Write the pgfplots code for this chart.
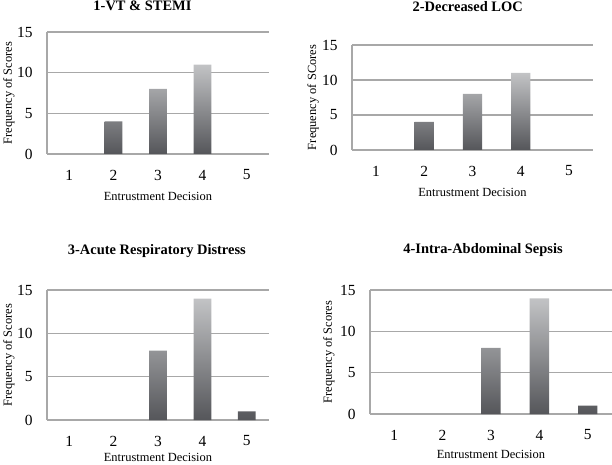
\documentclass[border=0pt]{standalone}
\usepackage{pgfplots}
\pgfplotsset{compat=1.18}
\usepackage{fontspec}
\setmainfont{Liberation Serif}
\definecolor{gridc}{HTML}{A8A8A8}
\definecolor{bartop}{HTML}{C2C3C5}
\definecolor{barbot}{HTML}{55565A}
\pgfplotsset{
  panel/.style={
    scale only axis,
    anchor=south west,
    xmin=0.5, xmax=5.5, ymin=0, ymax=15,
    xtick={1,2,3,4,5}, ytick={0,5,10,15},
    ymajorgrids, major grid style={gridc, line width=1.2pt},
    axis lines*=left,
    x axis line style={draw=none},
    y axis line style={gridc, line width=1.2pt, -},
    major tick length=0pt,
    tick label style={font=\fontsize{15.5}{16}\selectfont},
    xticklabel style={anchor=center, yshift=-21bp},
    yticklabel style={anchor=east, xshift=-11bp},
    /pgf/number format/assume math mode=true,
    label style={font=\fontsize{12.5}{13}\selectfont},
    title style={font=\fontsize{14.5}{15}\selectfont\bfseries, anchor=center},
    ylabel={Frequency of Scores},
    xlabel={Entrustment Decision},
    ylabel style={anchor=center},
    clip=false,
  },
  bars/.style={ybar, bar width=0.4, draw=none, shade, top color=bartop, bottom color=barbot},
}
\begin{document}
\begin{tikzpicture}
\useasboundingbox (0,0) rectangle (612bp,465bp);
% Panel 1
\begin{axis}[panel, at={(47bp,311bp)}, width=222bp, height=122bp,
  title={1-VT \& STEMI}, title style={at={(0.43,1.165)}},
  xlabel style={at={(0.5,-0.344)}, anchor=center},
  ylabel style={at={(-0.172,0.5)}}]
\addplot[bars] coordinates {(2,4) (3,8) (4,11)};
\end{axis}
% Panel 2
\begin{axis}[panel, at={(352bp,315bp)}, width=241bp, height=105bp,
  title={2-Decreased LOC}, title style={at={(0.48,1.31)}},
  ylabel={Frequency of SCores},
  xlabel style={at={(0.5,-0.4)}, anchor=center},
  ylabel style={at={(-0.162,0.5)}}]
\addplot[bars] coordinates {(2,4) (3,8) (4,11)};
\end{axis}
% Panel 3
\begin{axis}[panel, at={(47bp,45bp)}, width=222bp, height=130bp,
  title={3-Acute Respiratory Distress}, title style={at={(0.495,1.254)}},
  xlabel style={at={(0.5,-0.285)}, anchor=center},
  ylabel style={at={(-0.172,0.5)}}]
\addplot[bars] coordinates {(3,8) (4,14) (5,1)};
\end{axis}
% Panel 4
\begin{axis}[panel, at={(370bp,51bp)}, width=242bp, height=124bp,
  title={4-Intra-Abdominal Sepsis}, title style={at={(0.467,1.274)}},
  xlabel style={at={(0.5,-0.323)}, anchor=center},
  ylabel style={at={(-0.17,0.5)}}]
\addplot[bars] coordinates {(3,8) (4,14) (5,1)};
\end{axis}
\end{tikzpicture}
\end{document}
